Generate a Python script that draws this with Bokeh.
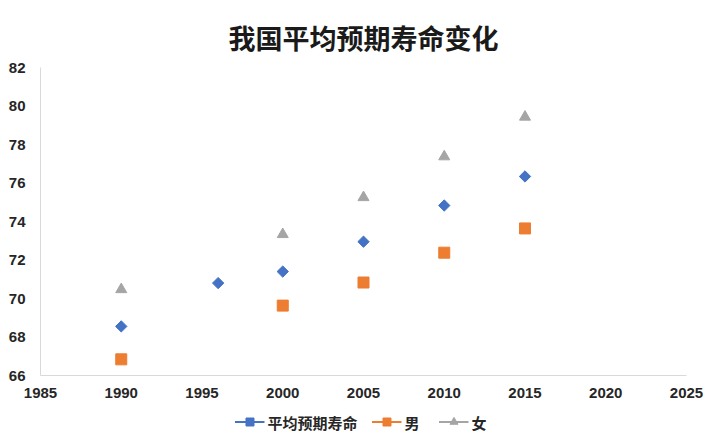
import math
from bokeh.plotting import figure
from bokeh.layouts import column
from bokeh.models import Legend, LegendItem, Range1d, FixedTicker
from bokeh.embed import file_html
from bokeh.resources import INLINE

years_avg = [1990, 1996, 2000, 2005, 2010, 2015]
avg_life = [68.55, 70.80, 71.40, 72.95, 74.83, 76.34]
years_sex = [1990, 2000, 2005, 2010, 2015]
male_life = [66.84, 69.63, 70.83, 72.38, 73.64]
female_life = [70.47, 73.33, 75.25, 77.37, 79.43]
x_ticks = [1985, 1990, 1995, 2000, 2005, 2010, 2015, 2020, 2025]
y_ticks = [66, 68, 70, 72, 74, 76, 78, 80, 82]
series_names = ["平均预期寿命", "男", "女"]

BLUE = "#4472C4"
ORANGE = "#ED7D31"
GRAY = "#A5A5A5"
NAN = float("nan")

p = figure(width=704, height=400, output_backend="svg", toolbar_location=None,
           title="我国平均预期寿命变化",
           x_range=Range1d(1985, 2025), y_range=Range1d(66, 82),
           min_border_left=40, min_border_right=18, min_border_top=67, min_border_bottom=25)

p.title.align = "center"
p.title.text_font = "Noto Sans CJK SC"
p.title.text_font_size = "27px"
p.title.text_font_style = "bold"
p.title.text_color = "#1a1a1a"
p.title.standoff = 21

p.outline_line_color = None
p.xgrid.visible = False
p.ygrid.visible = False

for ax, ticks in ((p.xaxis, x_ticks), (p.yaxis, y_ticks)):
    ax.ticker = FixedTicker(ticks=ticks)
    ax.axis_line_color = "#D9D9D9"
    ax.axis_line_width = 1
    ax.major_tick_line_color = None
    ax.minor_tick_line_color = None
    ax.major_label_text_font = "Liberation Sans"
    ax.major_label_text_font_style = "bold"
    ax.major_label_text_font_size = "15px"
    ax.major_label_text_color = "#262626"
p.xaxis.major_label_standoff = 6
p.yaxis.major_label_standoff = 9

p.scatter(years_avg, avg_life, marker="square", size=8, angle=math.pi / 4, color=BLUE)
p.scatter(years_sex, male_life, marker="square", size=11, color=ORANGE)
p.scatter(years_sex, female_life, marker="triangle", size=11, color=GRAY)

# legend figure
lg = figure(width=704, height=43, output_backend="svg", toolbar_location=None,
            x_range=Range1d(0, 1), y_range=Range1d(0, 1),
            min_border_left=0, min_border_right=0, min_border_top=0, min_border_bottom=0)
lg.axis.visible = False
lg.xgrid.visible = False
lg.ygrid.visible = False
lg.outline_line_color = None

l_avg = lg.line(x=[NAN], y=[NAN], color=BLUE, line_width=2)
s_avg = lg.scatter(x=[NAN], y=[NAN], marker="square", size=8, angle=math.pi / 4, color=BLUE)
l_m = lg.line(x=[NAN], y=[NAN], color=ORANGE, line_width=2)
s_m = lg.scatter(x=[NAN], y=[NAN], marker="square", size=9, color=ORANGE)
l_f = lg.line(x=[NAN], y=[NAN], color=GRAY, line_width=2)
s_f = lg.scatter(x=[NAN], y=[NAN], marker="triangle", size=9, color=GRAY)

legend = Legend(items=[
    LegendItem(label=series_names[0], renderers=[l_avg, s_avg]),
    LegendItem(label=series_names[1], renderers=[l_m, s_m]),
    LegendItem(label=series_names[2], renderers=[l_f, s_f]),
], orientation="horizontal", location="center")
legend.label_text_font = "Noto Sans CJK SC"
legend.label_text_font_size = "15px"
legend.label_text_font_style = "bold"
legend.label_text_color = "#262626"
legend.glyph_width = 30
legend.spacing = 14
legend.label_standoff = 3
legend.border_line_color = None
legend.background_fill_alpha = 0
legend.margin = 0
legend.padding = 2
lg.add_layout(legend, "center")

layout = column(p, lg, spacing=0)
open("out.html", "w").write(file_html(layout, INLINE))
